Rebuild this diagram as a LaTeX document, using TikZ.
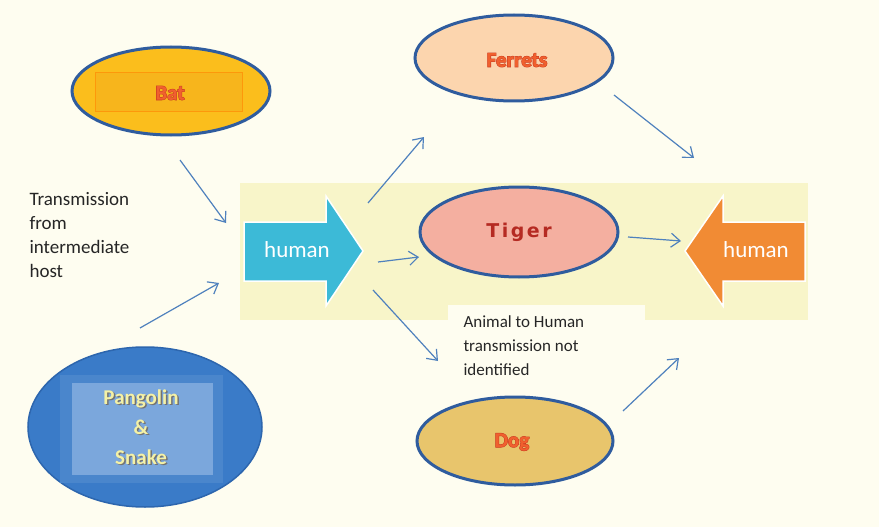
\documentclass[tikz,border=0pt]{standalone}
\usepackage{fontspec}
\setmainfont{Carlito}
\newfontfamily\roundfont{DejaVu Sans}
\newfontfamily\nameedgefont{Carlito}[BoldFeatures={FakeBold=5}]
\newfontfamily\namefillfont{Carlito}[BoldFeatures={FakeBold=1}]
\usetikzlibrary{shapes.geometric,arrows.meta}

\definecolor{paper}{HTML}{FEFDF0}
\definecolor{band}{HTML}{F8F5C9}
\definecolor{rim}{HTML}{2F5C9E}
\definecolor{flow}{HTML}{4F81BD}
\definecolor{batfill}{HTML}{FBBE1C}
\definecolor{batbox}{HTML}{F7B51C}
\definecolor{ferretfill}{HTML}{FCD5AE}
\definecolor{tigerfill}{HTML}{F4AFA0}
\definecolor{dogfill}{HTML}{E8C56C}
\definecolor{pangofill}{HTML}{3A7BC8}
\definecolor{pangoedge}{HTML}{2D66AE}
\definecolor{pangobox}{HTML}{4A86CC}
\definecolor{pangoinner}{HTML}{7BA7DC}
\definecolor{pangotext}{HTML}{F4F1A6}
\definecolor{namered}{HTML}{F0602E}
\definecolor{nameedge}{HTML}{C23420}
\definecolor{tigerred}{HTML}{B52A22}
\definecolor{cyanarrow}{HTML}{3CBAD7}
\definecolor{orangearrow}{HTML}{F18B34}

\tikzset{
  host/.style={ellipse, draw=rim, line width=3pt, inner sep=0pt},
  flowarrow/.style={draw=flow, line width=1.2pt,
    -{Straight Barb[length=9pt,width=14pt,line width=1.2pt]}},
  nameedge/.style={font=\nameedgefont\fontsize{21}{24}\selectfont\bfseries, text=nameedge},
  namefill/.style={font=\namefillfont\fontsize{21}{24}\selectfont\bfseries, text=namered},
  bodytext/.style={font=\fontsize{17}{24}\selectfont, text=black!85, align=left},
  bigarrow/.style={draw=white, line width=1.5pt},
  humantext/.style={font=\fontsize{23}{24}\selectfont, text=white}
}

\begin{document}
\begin{tikzpicture}[x=1pt,y=-1pt]
  \useasboundingbox (0,0) rectangle (879,527);
  \fill[paper] (0,0) rectangle (879,527);

  % central yellow band
  \fill[band] (240,183) rectangle (808,320);
  % note box under the band
  \fill[paper] (448,305) rectangle (645,390);

  % incoming human (left) and outgoing human (right) arrows
  \path[bigarrow, fill=cyanarrow]
    (244,222) -- (326,222) -- (326,196) -- (363,251) -- (326,306) -- (326,281) -- (244,281) -- cycle;
  \node[humantext] (humanL) at (297,250) {human};
  \path[bigarrow, fill=orangearrow]
    (805,222) -- (723,222) -- (723,196) -- (685,251) -- (723,306) -- (723,281) -- (805,281) -- cycle;
  \node[humantext] (humanR) at (756,250) {human};

  % intermediate hosts
  \node[host, fill=batfill, minimum width=198pt, minimum height=88pt] (bat) at (171,91) {};
  \fill[batbox, draw=orange!60!batfill, line width=0.6pt] (95,72) rectangle (242,111);
  \node[nameedge] at (170,93) {Bat};
  \node[namefill] (battxt) at (170,93) {Bat};

  \node[ellipse, fill=pangofill, draw=pangoedge, line width=1.5pt,
        minimum width=234pt, minimum height=160pt, inner sep=0pt] (pangolin) at (145,427) {};
  \fill[pangobox] (60,375) rectangle (223,483);
  \fill[pangoinner] (72,383) rectangle (213,475);
  \node[font=\fontsize{21}{30}\selectfont\bfseries, text=black!55, align=center] at (142.5,428.5)
    {Pangolin\\\&\\Snake};
  \node[font=\fontsize{21}{30}\selectfont\bfseries, text=pangotext, align=center] (pangotxt) at (141,427)
    {Pangolin\\\&\\Snake};

  % animals infected from humans
  \node[host, fill=ferretfill, minimum width=198pt, minimum height=86pt] (ferrets) at (514,58) {};
  \node[nameedge] at (517,60) {Ferrets};
  \node[namefill] (ferrettxt) at (517,60) {Ferrets};

  \node[host, fill=tigerfill, minimum width=198pt, minimum height=90pt,
        font=\roundfont\fontsize{19}{20}\selectfont\bfseries, text=tigerred] (tiger) at (519,232)
        {T\kern2.5pt i\kern2.5pt g\kern2.5pt e\kern2.5pt r};

  \node[host, fill=dogfill, minimum width=196pt, minimum height=88pt] (dog) at (515,441) {};
  \node[nameedge] at (512,442) {Dog};
  \node[namefill] (dogtxt) at (512,442) {Dog};

  % captions
  \node[bodytext, font=\fontsize{19}{24}\selectfont, anchor=north west] (hostnote) at (26,189)
    {Transmission\\from\\intermediate\\host};
  \node[bodytext, anchor=north west] (humannote) at (460,312)
    {Animal to Human\\transmission not\\identified};

  % connector end points
  \coordinate (batS) at (180,160);
  \coordinate (batE) at (226,223);
  \coordinate (panS) at (140,328);
  \coordinate (panE) at (219,283);
  \coordinate (ferS) at (368,203);
  \coordinate (ferE) at (424,137);
  \coordinate (tigS) at (378,262);
  \coordinate (tigE) at (419,257);
  \coordinate (dogS) at (373,290);
  \coordinate (dogE) at (438,361);
  \coordinate (ferOutS) at (614,95);
  \coordinate (ferOutE) at (694,158);
  \coordinate (tigOutS) at (628,237);
  \coordinate (tigOutE) at (681,241);
  \coordinate (dogOutS) at (623,411);
  \coordinate (dogOutE) at (679,358);

  \draw[flowarrow] (batS) -- (batE);
  \draw[flowarrow] (panS) -- (panE);
  \draw[flowarrow] (ferS) -- (ferE);
  \draw[flowarrow] (tigS) -- (tigE);
  \draw[flowarrow] (dogS) -- (dogE);
  \draw[flowarrow] (ferOutS) -- (ferOutE);
  \draw[flowarrow] (tigOutS) -- (tigOutE);
  \draw[flowarrow] (dogOutS) -- (dogOutE);
\end{tikzpicture}
\end{document}
